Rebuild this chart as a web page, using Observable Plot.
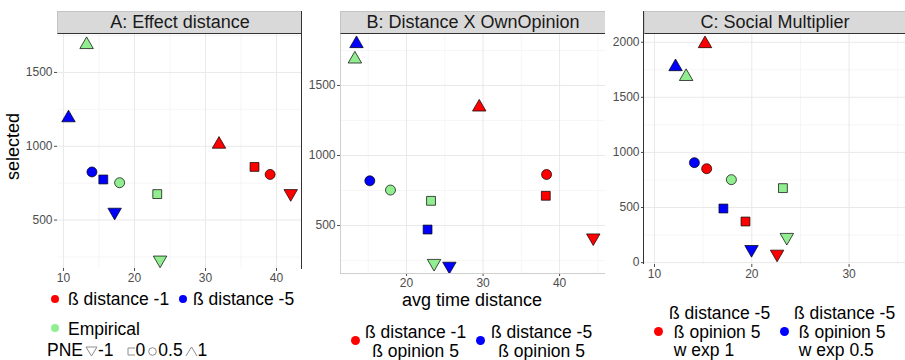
<!DOCTYPE html>
<html><head><meta charset="utf-8">
<script src="https://cdn.jsdelivr.net/npm/d3@7"></script>
<script src="https://cdn.jsdelivr.net/npm/@observablehq/plot@0.6"></script>
<style>
body{margin:0;background:#fff;font-family:"Liberation Sans",Arial,sans-serif;}
#root{position:relative;width:905px;height:360px;overflow:hidden;background:#fff;}
.abs{position:absolute;}
.strip{position:absolute;top:11px;height:23px;background:#d9d9d9;border-top:1px solid #c4c4c4;border-left:1px solid #c4c4c4;border-bottom:1.5px solid #333;box-sizing:border-box;font-size:18px;color:#1a1a1a;text-align:center;line-height:21px;white-space:nowrap;}
.txt{position:absolute;font-size:17.5px;color:#000;white-space:nowrap;line-height:20px;}
.dot{position:absolute;border-radius:50%;}
.multi{position:absolute;font-size:17.5px;line-height:18.5px;color:#000;white-space:nowrap;}
.vline{position:absolute;width:0;}
.hline{position:absolute;height:0;}
</style>
</head><body>
<div id="root"></div>
<script>
// ---------- data ----------
const pneLevels = [-1, 0, 0.5, 1];                 // PNE shape levels
const pneLabels = ["-1", "0", "0.5", "1"];
const seriesNames = ["ß distance -1", "ß distance -5", "Empirical"];
const seriesColors = ["#ff0000", "#0000ff", "#90ee90"];
const panelTitles = ["A: Effect distance", "B: Distance X OwnOpinion", "C: Social Multiplier"];
const xTitle = "avg time distance";
const yTitle = "selected";

// Empirical (same in all panels), order follows pneLevels
const empX = [23.6, 23.2, 17.9, 13.25];
const empY = [230, 676, 753, 1688];
// Panel A
const aRedX = [42.0, 36.9, 39.1, 31.9];
const aRedY = [680, 860, 809, 1013];
const aBlueX = [17.2, 15.6, 14.0, 10.7];
const aBlueY = [554, 775, 826, 1192];
// Panel B
const bRedX = [44.4, 38.2, 38.3, 29.5];
const bRedY = [412, 712, 864, 1345];
const bBlueX = [25.6, 22.75, 15.2, 13.46];
const bBlueY = [210, 471, 819, 1798];
// Panel C
const cRedX = [22.6, 19.35, 15.36, 15.19];
const cRedY = [78, 373, 852, 1986];
const cBlueX = [19.97, 17.08, 14.1, 12.16];
const cBlueY = [120, 491, 907, 1777];

// tick labels
const aXTicks = [10, 20, 30, 40], aXMinor = [15, 25, 35];
const aYTicks = [500, 1000, 1500], aYMinor = [250, 750, 1250, 1750];
const bXTicks = [20, 30, 40], bXMinor = [15, 25, 35, 45];
const bYTicks = [500, 1000, 1500], bYMinor = [250, 750, 1250, 1750];
const cXTicks = [10, 20, 30], cXMinor = [15, 25, 35];
const cYTicks = [0, 500, 1000, 1500, 2000], cYMinor = [250, 750, 1250, 1750];

// ---------- symbols ----------
const sqrt3 = Math.sqrt(3);
const triangleDown = {
  draw(context, size) {
    const y = -Math.sqrt(size / (sqrt3 * 3));
    context.moveTo(0, -y * 2);
    context.lineTo(-sqrt3 * y, y);
    context.lineTo(sqrt3 * y, y);
    context.closePath();
  }
};
const shapeFor = [triangleDown, "square", "circle", "triangle"];

function rows(xs, ys, si) {
  return pneLevels.map((p, i) => ({x: xs[i], y: ys[i], pne: p, shape: i, series: seriesNames[si], color: seriesColors[si]}));
}

function makePanel(cfg) {
  const data = [
    ...rows(cfg.redX, cfg.redY, 0),
    ...rows(cfg.blueX, cfg.blueY, 1),
    ...rows(empX, empY, 2)
  ];
  const marks = [
    Plot.ruleX(cfg.xMinor, {stroke: "#f4f4f4", strokeWidth: 0.8}),
    Plot.ruleY(cfg.yMinor, {stroke: "#f4f4f4", strokeWidth: 0.8}),
    Plot.ruleX(cfg.xTicks, {stroke: "#e9e9e9", strokeWidth: 1}),
    Plot.ruleY(cfg.yTicks, {stroke: "#e9e9e9", strokeWidth: 1})
  ];
  for (const d of data) {
    marks.push(Plot.dot([d], {x: "x", y: "y", r: 5, symbol: shapeFor[d.shape], fill: d.color, stroke: "#000", strokeWidth: 0.7}));
  }
  const fmt = d => String(d);
  return Plot.plot({
    width: cfg.width, height: cfg.height,
    marginLeft: cfg.ml, marginRight: cfg.mr, marginTop: 34, marginBottom: cfg.mb,
    style: {background: "transparent", fontFamily: "Liberation Sans, Arial, sans-serif", fontSize: "12px", color: "#4d4d4d", overflow: "visible"},
    x: {domain: cfg.xDomain, ticks: cfg.xTicks, tickFormat: fmt, tickSize: 3, tickPadding: 2, label: null},
    y: {domain: cfg.yDomain, ticks: cfg.yTicks, tickFormat: fmt, tickSize: 3, tickPadding: 2, label: null},
    marks
  });
}

const root = document.getElementById("root");
function place(el, left, top) { el.style.position = "absolute"; el.style.left = left + "px"; el.style.top = top + "px"; root.appendChild(el); return el; }
function div(cls, style, html) { const e = document.createElement("div"); e.className = cls; e.setAttribute("style", style); if (html != null) e.innerHTML = html; root.appendChild(e); return e; }

place(makePanel({width: 305, height: 290, ml: 57, mr: 3, mb: 22, xDomain: [9.15, 43.66], yDomain: [172, 1757],
  xTicks: aXTicks, xMinor: aXMinor, yTicks: aYTicks, yMinor: aYMinor, redX: aRedX, redY: aRedY, blueX: aBlueX, blueY: aBlueY}), 0, 0);
place(makePanel({width: 305, height: 300, ml: 35, mr: 5, mb: 27, xDomain: [11.37, 46.0], yDomain: [157, 1864],
  xTicks: bXTicks, xMinor: bXMinor, yTicks: bYTicks, yMinor: bYMinor, redX: bRedX, redY: bRedY, blueX: bBlueX, blueY: bBlueY}), 305, 0);
place(makePanel({width: 295, height: 290, ml: 34, mr: 0, mb: 26, xDomain: [8.97, 35.8], yDomain: [-17, 2070],
  xTicks: cXTicks, xMinor: cXMinor, yTicks: cYTicks, yMinor: cYMinor, redX: cRedX, redY: cRedY, blueX: cBlueX, blueY: cBlueY}), 610, 0);

// strips
div("strip", "left:57px;width:245px;", panelTitles[0]);
div("strip", "left:340px;width:265px;", panelTitles[1]);
div("strip", "left:644px;width:261px;", panelTitles[2]);
// borders
div("vline", "left:301px;top:11px;height:258px;border-left:1.5px solid #333;");
div("vline", "left:340px;top:34px;height:239px;border-left:1px solid #cfcfcf;");
div("hline", "left:340px;top:273px;width:265px;border-top:1px solid #cfcfcf;");
div("vline", "left:643px;top:11px;height:253px;border-left:1.5px solid #333;");

// axis titles
div("abs", "left:-17px;top:140px;width:60px;text-align:center;font-size:18px;line-height:20px;transform:rotate(-90deg);color:#000;", yTitle);
div("abs", "left:372px;top:290px;width:200px;text-align:center;font-size:18px;line-height:20px;color:#000;", xTitle);

// Legend A
div("dot", `left:51px;top:295px;width:8px;height:8px;background:${seriesColors[0]};`);
div("txt", "left:68px;top:289px;", seriesNames[0]);
div("dot", `left:179px;top:295px;width:8px;height:8px;background:${seriesColors[1]};`);
div("txt", "left:193px;top:289px;", seriesNames[1]);
div("dot", `left:51px;top:324px;width:8px;height:8px;background:${seriesColors[2]};`);
div("txt", "left:68px;top:319px;", seriesNames[2]);
const g = "#8c8c8c";
const pneIcons = [
  `<svg width="13" height="12" style="vertical-align:-1px"><polygon points="1,2 12,2 6.5,11" fill="none" stroke="${g}" stroke-width="1"/></svg>`,
  `<svg width="10" height="12" style="vertical-align:-1px"><polyline points="9,3 2,3 2,10 9,10" fill="none" stroke="${g}" stroke-width="1"/></svg>`,
  `<svg width="11" height="12" style="vertical-align:-1px"><circle cx="5.5" cy="6.5" r="3.8" fill="none" stroke="${g}" stroke-width="1"/></svg>`,
  `<svg width="13" height="12" style="vertical-align:-1px"><polyline points="1,11 6.5,2 12,11" fill="none" stroke="${g}" stroke-width="1"/></svg>`
];
div("txt", "left:47px;top:340px;", "PNE" + pneLabels.map((l, i) => `<span style="margin-left:${i === 1 ? 12 : 2}px">${pneIcons[i]}</span>${l}`).join(""));

// Legend B
div("dot", `left:351px;top:336px;width:9px;height:9px;background:${seriesColors[0]};`);
div("multi", "left:365px;top:323px;text-align:center;", "ß distance -1<br>ß opinion 5");
div("dot", `left:476px;top:336px;width:9px;height:9px;background:${seriesColors[1]};`);
div("multi", "left:491px;top:323px;text-align:center;", "ß distance -5<br>ß opinion 5");

// Legend C
div("dot", `left:654px;top:327px;width:9px;height:9px;background:${seriesColors[0]};`);
div("multi", "left:669px;top:304px;", "ß distance -5<br>&nbsp;ß opinion 5<br>&nbsp;w exp 1");
div("dot", `left:780px;top:327px;width:9px;height:9px;background:${seriesColors[1]};`);
div("multi", "left:794px;top:304px;", "ß distance -5<br>&nbsp;ß opinion 5<br>&nbsp;w exp 0.5");
</script>
</body></html>
